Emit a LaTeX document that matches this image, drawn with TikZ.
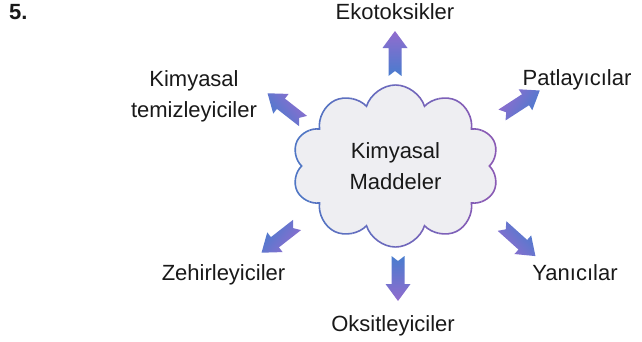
\documentclass[tikz,border=0pt]{standalone}
\usepackage{fontspec}
\setmainfont{Liberation Sans}
\usepackage{xcolor}
\usetikzlibrary{shapes.symbols,calc}

\definecolor{cloudfill}{RGB}{238,238,242}
\definecolor{cloudblue}{RGB}{80,118,196}
\definecolor{cloudpurple}{RGB}{138,90,180}
\definecolor{arrowblue}{RGB}{72,124,206}
\definecolor{arrowpurple}{RGB}{146,108,206}
\definecolor{textgray}{RGB}{25,25,25}

\tikzset{
  lbl/.style={text=textgray,font=\fontsize{22}{31}\selectfont,inner sep=0pt},
  cloudshape/.style={cloud,cloud puffs=10,cloud puff arc=145,aspect=1.27,minimum width=207pt,minimum height=162pt,inner sep=0pt},
  pics/blockarrow/.style={code={%blue tail, purple head, along the rotated axis
    \pgfmathsetmacro\shang{90-#1}
    \shade[shading=axis,bottom color=arrowblue,top color=arrowpurple,shading angle=\shang,rotate=#1]
      (0,6.5)--(28,6.5)--(28,12.5)--(45,0)--(28,-12.5)--(28,-6.5)--(0,-6.5)--(5,0)--cycle;
  }}
}

\begin{document}
\begin{tikzpicture}[x=1pt,y=1pt]
  \useasboundingbox (0,0) rectangle (642,341);

  \node[lbl,font=\fontsize{22}{26}\bfseries,anchor=base west] (num) at (9,321) {5.};

  % cloud in the middle
  \node[cloudshape,fill=cloudfill,lbl,font=\fontsize{22}{31}\selectfont,align=center] (cloud) at (395.5,175) {Kimyasal\\Maddeler};
  \foreach \k in {0,...,9}{%border from blue to purple
    \pgfmathtruncatemacro\mix{100-11*\k}
    \begin{scope}
      \clip ({288+21.5*\k},0) rectangle ++(21.5,341);
      \node[cloudshape,draw=cloudblue!\mix!cloudpurple,line width=1.6pt] at (cloud.center) {};
    \end{scope}
  }

  % labels
  \node[lbl,anchor=base] (eko) at (395,322) {Ekotoksikler};
  \node[lbl,align=center] (temiz) at (194,245) {Kimyasal\\temizleyiciler};
  \node[lbl,anchor=base] (patla) at (577,256) {Patlayıcılar};
  \node[lbl,anchor=base] (zehir) at (223.5,61) {Zehirleyiciler};
  \node[lbl,anchor=base] (yanici) at (575,61) {Yanıcılar};
  \node[lbl,anchor=base] (oksit) at (393,10) {Oksitleyiciler};

  % arrows out of the cloud
  \pic at (395,265) {blockarrow=90};
  \pic at (303,220) {blockarrow=142};
  \pic at (502,226) {blockarrow=33};
  \pic at (502,115) {blockarrow=-42};
  \pic at (297,116) {blockarrow=218};
  \pic at (398,85) {blockarrow=-90};
\end{tikzpicture}
\end{document}
